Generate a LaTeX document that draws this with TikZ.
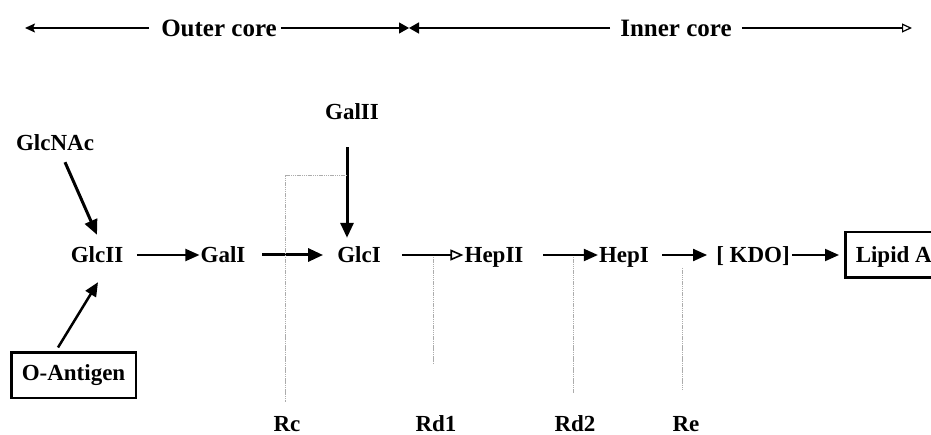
\documentclass[tikz,border=0pt]{standalone}
\usepackage{fontspec}
\setmainfont{Liberation Serif}
\usetikzlibrary{arrows.meta}
\begin{document}
\begin{tikzpicture}[x=1pt,y=-1pt,
  lbl/.style={font=\fontsize{23}{23}\selectfont\bfseries, inner sep=0pt, text height=15pt, text depth=0pt},
  hdr/.style={font=\fontsize{25}{25}\selectfont\bfseries, inner sep=0pt, text height=16.5pt, text depth=0pt},
  boxed/.style={lbl, draw, line width=2.5pt, inner xsep=10.5pt, minimum height=45.5pt},
  flow/.style={line width=2pt, -{Triangle[length=14pt,width=12pt]}},
  heavy/.style={line width=3pt, -{Triangle[length=15pt,width=13pt]}},
  hollow/.style={line width=2pt, -{Triangle[open,length=13pt,width=11pt,line width=1.6pt]}},
  span/.style={line width=1.6pt},
  guide/.style={gray!65, line width=1pt, dash pattern=on 1.5pt off 0.7pt}]

\useasboundingbox (0,0) rectangle (931,435);

% core extent markers
\node[hdr] (outer) at (219,28) {Outer core};
\node[hdr] (inner) at (676,28) {Inner core};
\coordinate (leftend) at (25,28);
\coordinate (split) at (409,28);
\coordinate (rightend) at (912,28);
\draw[span, -{Stealth[length=10pt,width=9pt,inset=2pt]}] ([xshift=-12pt]outer.west) -- (leftend);
\draw[span, line width=1.2pt, -{Triangle[length=10pt,width=11pt]}] ([xshift=4pt]outer.east) -- (split);
\draw[span, -{Triangle[length=10pt,width=11pt]}] ([xshift=-10pt]inner.west) -- (split);
\draw[span, line width=1.3pt, -{Triangle[open,length=10pt,width=9pt,line width=1.2pt]}] ([xshift=10pt]inner.east) -- (rightend);

% sugar residues
\node[lbl] (glcnac) at (55,143) {GlcNAc};
\node[lbl] (galii) at (352,112) {GalII};
\node[lbl] (glcii) at (97,255) {GlcII};
\node[lbl] (gali) at (223,255) {GalI};
\node[lbl] (glci) at (359,255) {GlcI};
\node[lbl] (hepii) at (494,255) {HepII};
\node[lbl] (hepi) at (624,255) {HepI};
\node[lbl] (kdo) at (753,255) {[ KDO]};
\node[boxed, anchor=west] (lipid) at (844,255) {Lipid A};
\node[boxed, text depth=4pt] (oant) at (73.5,375) {O-Antigen};

% chemotype labels
\node[lbl] (rc) at (287,424) {Rc};
\node[lbl] (rdone) at (436,424) {Rd1};
\node[lbl] (rdtwo) at (575,424) {Rd2};
\node[lbl] (re) at (686,424) {Re};

% main chain
\draw[heavy] ([shift={(10pt,-11.5pt)}]glcnac.south) -- ([yshift=12.5pt]glcii.north);
\draw[line width=2.5pt, -{Triangle[length=14pt,width=12pt]}] ([shift={(-15.5pt,3.5pt)}]oant.north) -- ([shift={(1pt,-19.5pt)}]glcii.south);
\draw[flow] ([xshift=13.5pt]glcii.east) -- ([xshift=-1pt]gali.west);
\draw[heavy] ([xshift=16.5pt]gali.east) -- ([xshift=-14pt]glci.west);
\draw[heavy] ([shift={(-5pt,-27.5pt)}]galii.south) -- ([shift={(-12pt,9.5pt)}]glci.north);
\draw[hollow] ([xshift=21pt]glci.east) -- ([xshift=-1pt]hepii.west);
\draw[flow] ([xshift=19.5pt]hepii.east) -- ([xshift=-1pt]hepi.west);
\draw[flow] ([xshift=13pt]hepi.east) -- ([xshift=-9pt]kdo.west);
\draw[flow] ([xshift=2pt]kdo.east) -- ([xshift=-5pt]lipid.west);

% truncation points
\coordinate (brk) at (347,176);
\coordinate (rdonetop) at (433,257);
\coordinate (rdtwotop) at (573,257);
\coordinate (retop) at (682,268);
\draw[guide] (brk) -| ([shift={(-2pt,14.5pt)}]rc.north);
\draw[guide] (rdonetop) -- ([shift={(-3pt,52.5pt)}]rdone.north);
\draw[guide] (rdtwotop) -- ([shift={(-2pt,23.5pt)}]rdtwo.north);
\draw[guide] (retop) -- ([shift={(-4pt,26.5pt)}]re.north);
\end{tikzpicture}
\end{document}
